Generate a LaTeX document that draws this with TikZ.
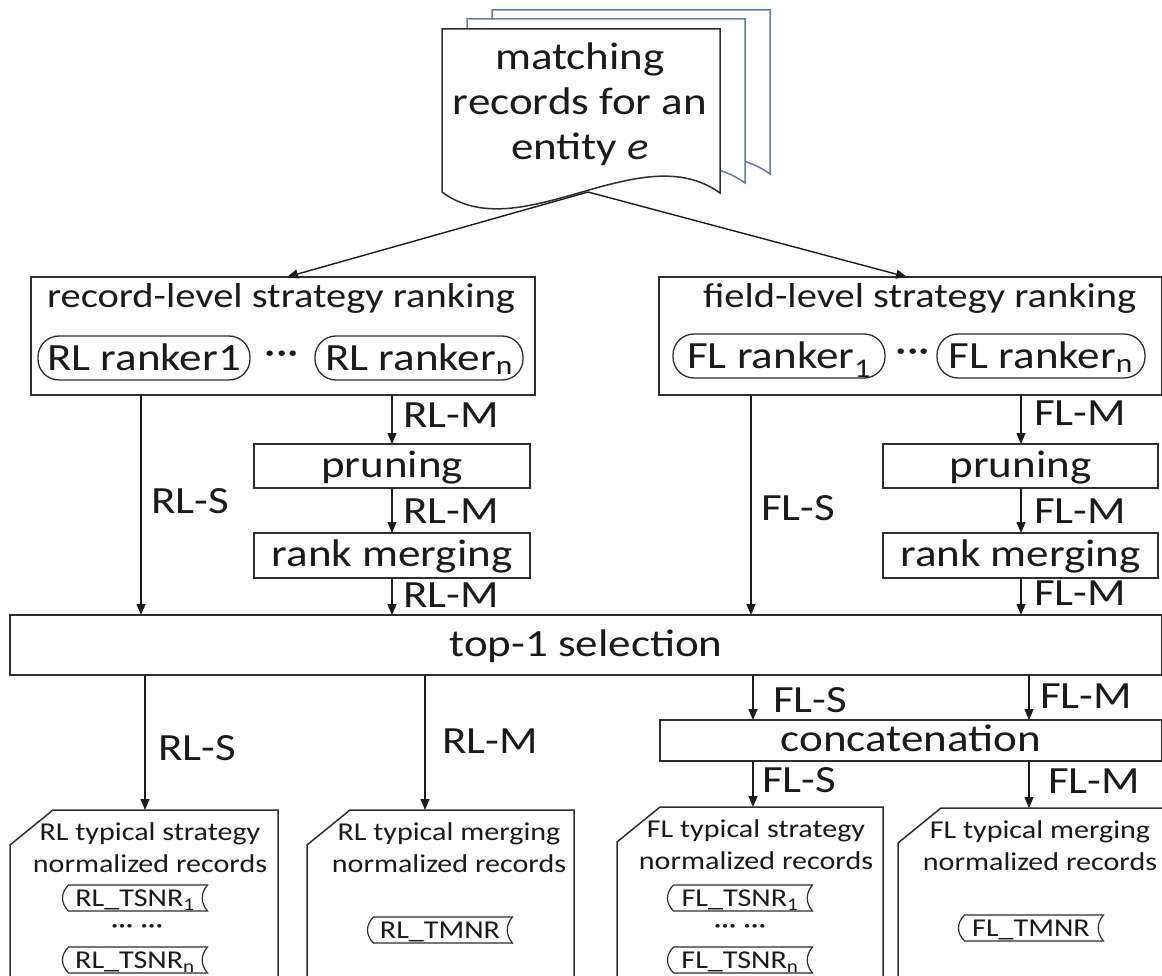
\documentclass[tikz,border=0pt]{standalone}
\usepackage{fontspec}
\setmainfont{Carlito}[FakeStretch=1.17]
\usetikzlibrary{arrows.meta,calc}
\definecolor{ink}{HTML}{1A1A1A}
\definecolor{edge}{HTML}{2E2E2E}
\definecolor{pageedge}{HTML}{5B7DA2}
\tikzset{
  every node/.style={inner sep=0pt, outer sep=0pt, text=ink},
  big/.style={font=\fontsize{38.5}{45}\selectfont},
  ttl/.style={font=\fontsize{34.6}{40}\selectfont},
  small/.style={font=\fontsize{25.7}{32}\selectfont},
  frame/.style={draw=edge, line width=1.5pt, fill=white},
  procbox/.style={frame, big, anchor=north west, text height=28pt, text depth=6pt},
  stadium/.style={draw=edge, line width=1.3pt, rounded corners=21pt, minimum height=44pt, big, text height=25pt, text depth=0pt},
  flowlabel/.style={big, anchor=base west},
  arr/.style={draw=ink, line width=1.4pt, -{Triangle[length=11pt,width=9pt]}},
  cardslot/.style={anchor=north west, minimum height=200pt},
  cardtext/.style={small, align=center},
  tapeslot/.style={small, minimum width=145pt, minimum height=26pt, text height=17pt, text depth=0pt},
  tapeline/.style={draw=edge, line width=1.2pt},
}
% card with a cut top-left corner, drawn round an empty slot node
\newcommand\cardframe[1]{\draw[frame] ([xshift=43pt]#1.north west) -- (#1.north east) -- (#1.south east) -- (#1.south west) -- ([yshift=-35pt]#1.north west) -- cycle;}
% stored-data outline (both sides bent the same way) round a node
\newcommand\tapeframe[1]{\draw[tapeline] ($(#1.north west)+(6,0)$) -- (#1.north east) .. controls ($(#1.north east)+(-7,8)$) and ($(#1.south east)+(-7,-8)$) .. (#1.south east) -- ($(#1.south west)+(6,0)$) .. controls ($(#1.south west)+(-2,-8)$) and ($(#1.north west)+(-2,8)$) .. cycle;}

\begin{document}
\begin{tikzpicture}[x=1pt,y=-1pt]
\useasboundingbox (0,0) rectangle (1162,976);
\fill[white] (0,0) rectangle (1162,976);
\clip (0,0) rectangle (1162,976);

% stack of record pages
\foreach \dx/\dy/\col in {50/-19/pageedge, 25/-10/pageedge, 0/0/edge} {
  \draw[line width=1.5pt, draw=\col, fill=white, shift={(\dx,\dy)}]
    (442,192) -- (442,29) -- (720,29) -- (720,193)
    .. controls (640,135) and (520,250) .. cycle;
}
\node[big, align=center] (doctext) at (580,104) {matching\\records for an\\entity \textit{e}};
\coordinate (docout) at (588,192);

% strategy ranking boxes
\node[frame, anchor=north west, minimum width=504pt, minimum height=118pt] (RLbox) at (31,277) {};
\node[frame, anchor=north west, minimum width=503pt, minimum height=118pt] (FLbox) at (659,277) {};
\node[ttl, anchor=base west] (RLtitle) at (47,308) {record-level strategy ranking};
\node[ttl, anchor=base west] (FLtitle) at (703,308) {field-level strategy ranking};
\node[stadium, minimum width=212pt] (RLr1) at (144,358) {RL ranker1};
\node[big] (RLdots) at (282,358) {···};
\node[stadium, minimum width=208pt] (RLrn) at (419,358) {RL ranker\textsubscript{n}};
\node[stadium, minimum width=212pt] (FLr1) at (779,356) {FL ranker\textsubscript{1}};
\node[big] (FLdots) at (913,356) {···};
\node[stadium, minimum width=208pt] (FLrn) at (1041,356) {FL ranker\textsubscript{n}};

\draw[arr] (docout) -- ([xshift=256pt]RLbox.north west);
\draw[arr] (docout) -- ([xshift=248pt]FLbox.north west);

% merging chains
\node[procbox, minimum width=276pt, minimum height=44pt] (RLprune) at (254,444) {pruning};
\node[procbox, minimum width=276pt, minimum height=45pt] (RLmerge) at (254,533) {rank merging};
\node[procbox, minimum width=275pt, minimum height=44pt] (FLprune) at (883,444) {pruning};
\node[procbox, minimum width=275pt, minimum height=45pt] (FLmerge) at (883,533) {rank merging};
\node[procbox, minimum width=1152pt, minimum height=60pt] (top1) at (10,615) {top-1 selection};
\node[procbox, minimum width=502pt, minimum height=41pt] (concat) at (660,720) {concatenation};

% arrow columns
\coordinate (cRLS) at (141,0);
\coordinate (cRLM) at (392,0);
\coordinate (cFLS) at (751,0);
\coordinate (cFLM) at (1021,0);
\coordinate (cRLSb) at (145,0);
\coordinate (cRLMb) at (425,0);
\coordinate (cFLSb) at (753,0);
\coordinate (cFLMb) at (1029,0);

\draw[arr] (RLbox.south -| cRLS) -- (top1.north -| cRLS);
\draw[arr] (RLbox.south -| cRLM) -- (RLprune.north -| cRLM);
\draw[arr] (RLprune.south -| cRLM) -- (RLmerge.north -| cRLM);
\draw[arr] (RLmerge.south -| cRLM) -- (top1.north -| cRLM);
\draw[arr] (FLbox.south -| cFLS) -- (top1.north -| cFLS);
\draw[arr] (FLbox.south -| cFLM) -- (FLprune.north -| cFLM);
\draw[arr] (FLprune.south -| cFLM) -- (FLmerge.north -| cFLM);
\draw[arr] (FLmerge.south -| cFLM) -- (top1.north -| cFLM);

\node[flowlabel] (lRLS) at (151,513) {RL-S};
\node[flowlabel] (lRLM1) at (403,427) {RL-M};
\node[flowlabel] (lRLM2) at (403,523) {RL-M};
\node[flowlabel] (lRLM3) at (403,607) {RL-M};
\node[flowlabel] (lFLS) at (761,520) {FL-S};
\node[flowlabel] (lFLM1) at (1034,425) {FL-M};
\node[flowlabel] (lFLM2) at (1034,523) {FL-M};
\node[flowlabel] (lFLM3) at (1034,605) {FL-M};

% normalized record cards
\node[cardslot, minimum width=268pt] (RLts) at (10,810) {};
\node[cardslot, minimum width=267pt] (RLtm) at (307,810) {};
\node[cardslot, minimum width=266pt] (FLts) at (617,807) {};
\node[cardslot, minimum width=270pt] (FLtm) at (898,808) {};
\cardframe{RLts}
\cardframe{RLtm}
\cardframe{FLts}
\cardframe{FLtm}

\node[cardtext] (RLtsT) at (150,848) {RL typical strategy\\normalized records};
\node[cardtext] (RLtmT) at (449,848) {RL typical merging\\normalized records};
\node[cardtext] (FLtsT) at (756,845) {FL typical strategy\\normalized records};
\node[cardtext] (FLtmT) at (1040,846) {FL typical merging\\normalized records};

\node[tapeslot] (RLt1) at (135,898) {RL\_TSNR\textsubscript{1}};
\node[small] (RLtd) at (137,929) {··· ···};
\node[tapeslot] (RLtn) at (135,960) {RL\_TSNR\textsubscript{n}};
\node[tapeslot] (RLtmn) at (440,930) {RL\_TMNR};
\node[tapeslot] (FLt1) at (740,898) {FL\_TSNR\textsubscript{1}};
\node[small] (FLtd) at (740,929) {··· ···};
\node[tapeslot] (FLtn) at (740,960) {FL\_TSNR\textsubscript{n}};
\node[tapeslot] (FLtmn) at (1031,928) {FL\_TMNR};
\tapeframe{RLt1}
\tapeframe{RLtn}
\tapeframe{RLtmn}
\tapeframe{FLt1}
\tapeframe{FLtn}
\tapeframe{FLtmn}

% outputs of the selection
\draw[arr] (top1.south -| cRLSb) -- (RLts.north -| cRLSb);
\draw[arr] (top1.south -| cRLMb) -- (RLtm.north -| cRLMb);
\draw[arr] (top1.south -| cFLSb) -- (concat.north -| cFLSb);
\draw[arr] (top1.south -| cFLMb) -- (concat.north -| cFLMb);
\draw[arr] (concat.south -| cFLSb) -- (FLts.north -| cFLSb);
\draw[arr] (concat.south -| cFLMb) -- (FLtm.north -| cFLMb);

\node[flowlabel] (lRLSb) at (158,760) {RL-S};
\node[flowlabel] (lRLMb) at (442,753) {RL-M};
\node[flowlabel] (lFLSa) at (773,712) {FL-S};
\node[flowlabel] (lFLMa) at (1040,708) {FL-M};
\node[flowlabel] (lFLSb) at (762,792) {FL-S};
\node[flowlabel] (lFLMb) at (1048,793) {FL-M};
\end{tikzpicture}
\end{document}
